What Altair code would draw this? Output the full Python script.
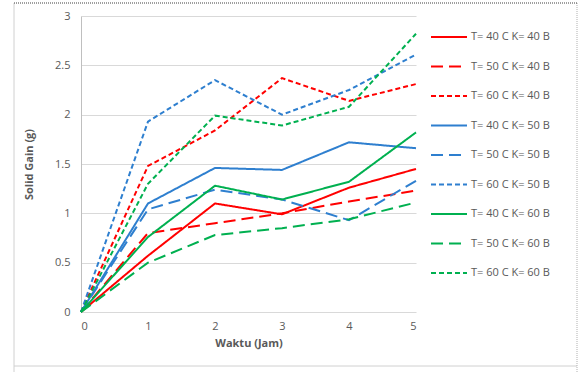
import altair as alt
import pandas as pd

# Solid gain (g) over drying time (hours) for each temperature / concentration run
waktu = [0, 1, 2, 3, 4, 5]

series_names = [
    "T= 40 C K= 40 B", "T= 50 C K= 40 B", "T= 60 C K= 40 B",
    "T= 40 C K= 50 B", "T= 50 C K= 50 B", "T= 60 C K= 50 B",
    "T= 40 C K= 60 B", "T= 50 C K= 60 B", "T= 60 C K= 60 B",
]

t40_k40 = [0, 0.57, 1.10, 0.99, 1.26, 1.45]
t50_k40 = [0, 0.80, 0.90, 1.00, 1.12, 1.23]
t60_k40 = [0, 1.48, 1.84, 2.37, 2.14, 2.31]
t40_k50 = [0, 1.10, 1.46, 1.44, 1.72, 1.66]
t50_k50 = [0, 1.04, 1.24, 1.14, 0.93, 1.33]
t60_k50 = [0, 1.93, 2.35, 2.00, 2.25, 2.61]
t40_k60 = [0, 0.76, 1.28, 1.14, 1.32, 1.82]
t50_k60 = [0, 0.50, 0.78, 0.85, 0.94, 1.11]
t60_k60 = [0, 1.30, 1.99, 1.89, 2.08, 2.82]

all_series = [t40_k40, t50_k40, t60_k40, t40_k50, t50_k50, t60_k50,
              t40_k60, t50_k60, t60_k60]

rows = []
for name, vals in zip(series_names, all_series):
    for t, v in zip(waktu, vals):
        rows.append({"waktu": t, "gain": v, "seri": name})
df = pd.DataFrame(rows)

RED, BLUE, GREEN = "#ff0000", "#2e7fcf", "#00b050"
colors = [RED, RED, RED, BLUE, BLUE, BLUE, GREEN, GREEN, GREEN]
solid, long_dash, short_dash = [1, 0], [12, 6], [5, 3]
dashes = [solid, long_dash, short_dash] * 3

TXT = "#595959"
FONT = "Open Sans"

lines = alt.Chart(df).mark_line(strokeWidth=2, clip=False).encode(
    x=alt.X("waktu:Q", title="Waktu (Jam)",
            scale=alt.Scale(domain=[0, 5], nice=False),
            axis=alt.Axis(values=waktu, format="d", grid=False, ticks=False,
                          domain=False, labelPadding=8, titlePadding=6)),
    y=alt.Y("gain:Q", title="Solid Gain (g)",
            scale=alt.Scale(domain=[0, 3], nice=False),
            axis=alt.Axis(values=[0, 0.5, 1, 1.5, 2, 2.5, 3], format="~g",
                          ticks=False, domain=True, domainColor="#bfbfbf",
                          gridColor="#d9d9d9", labelPadding=11,
                          titlePadding=20)),
    color=alt.Color("seri:N", title=None,
                    scale=alt.Scale(domain=series_names, range=colors),
                    sort=series_names),
    strokeDash=alt.StrokeDash("seri:N", title=None,
                              scale=alt.Scale(domain=series_names, range=dashes),
                              sort=series_names),
    order="waktu:Q",
)

one = alt.Data(values=[{}])
frame_col = "#d0d0d0"
left = alt.Chart(one).mark_rule(color=frame_col, strokeWidth=1).encode(
    x=alt.value(-67), y=alt.value(-13), y2=alt.value(356))
bottom = alt.Chart(one).mark_rule(color=frame_col, strokeWidth=1).encode(
    x=alt.value(-67), x2=alt.value(496), y=alt.value(350))
right = alt.Chart(one).mark_rule(color="#b0b0b0", strokeWidth=1,
                                 strokeDash=[1, 1]).encode(
    x=alt.value(496), y=alt.value(-13), y2=alt.value(356))
top = alt.Chart(one).mark_rule(color="#404040", strokeWidth=1,
                               strokeDash=[1, 1]).encode(
    x=alt.value(-67), x2=alt.value(496), y=alt.value(-13))

chart = alt.layer(lines, left, bottom, right, top).properties(
    width=335, height=296,
    padding={"left": 81, "top": 16, "right": 163, "bottom": 60},
    autosize=alt.AutoSizeParams(type="none"),
).configure_view(stroke=None).configure_axis(
    labelFont=FONT, labelFontSize=11, labelColor=TXT,
    titleFont=FONT, titleFontSize=11, titleColor=TXT, titleFontWeight="bold",
).configure_legend(
    orient="none", legendX=349, legendY=2,
    symbolType="stroke", symbolSize=1296, symbolStrokeWidth=2,
    labelFont=FONT, labelFontSize=11, labelColor=TXT,
    rowPadding=5.5, labelOffset=3,
)

chart.save("out.html", embed_options={"renderer": "svg", "actions": False})
